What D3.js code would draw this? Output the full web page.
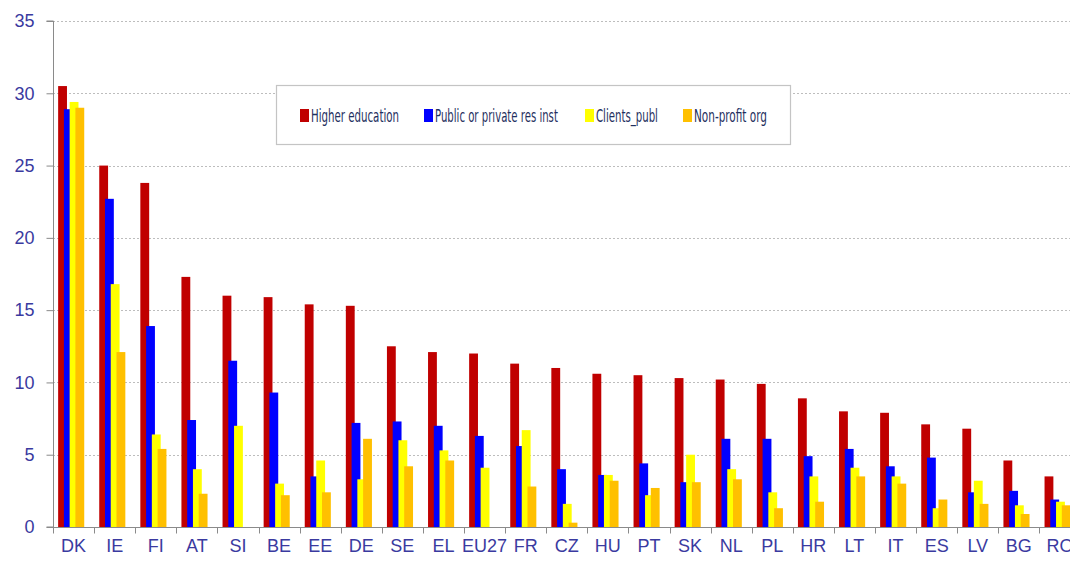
<!DOCTYPE html>
<html>
<head>
<meta charset="utf-8">
<script src="https://cdn.jsdelivr.net/npm/d3@7"></script>
<style>
  html, body { margin: 0; padding: 0; background: #fff; }
  svg { display: block; }
</style>
</head>
<body>
<svg id="chart" width="1070" height="565"></svg>
<script>
const categories = ["DK","IE","FI","AT","SI","BE","EE","DE","SE","EL","EU27","FR","CZ","HU","PT","SK","NL","PL","HR","LT","IT","ES","LV","BG","RO"];
const seriesNames = ["Higher education","Public or private res inst","Clients_publ","Non-profit org"];
const seriesColors = ["#c00000","#0000ff","#ffff00","#ffc000"];
const higherEducation = [30.5,25.0,23.8,17.3,16.0,15.9,15.4,15.3,12.5,12.1,12.0,11.3,11.0,10.6,10.5,10.3,10.2,9.9,8.9,8.0,7.9,7.1,6.8,4.6,3.5];
const publicPrivateRes = [28.9,22.7,13.9,7.4,11.5,9.3,3.5,7.2,7.3,7.0,6.3,5.6,4.0,3.6,4.4,3.1,6.1,6.1,4.9,5.4,4.2,4.8,2.4,2.5,1.9];
const clientsPubl = [29.4,16.8,6.4,4.0,7.0,3.0,4.6,3.3,6.0,5.3,4.1,6.7,1.6,3.6,2.2,5.0,4.0,2.4,3.5,4.1,3.5,1.3,3.2,1.5,1.75];
const nonProfitOrg = [29.0,12.1,5.4,2.3,0,2.2,2.4,6.1,4.2,4.6,0,2.8,0.3,3.2,2.7,3.1,3.3,1.3,1.75,3.5,3.0,1.9,1.6,0.9,1.5];
const yTicks = [0,5,10,15,20,25,30,35];

const allSeries = [higherEducation, publicPrivateRes, clientsPubl, nonProfitOrg];

const svg = d3.select("#chart");
const textColor = "#3a3aa0";
const tickFont = "'Liberation Sans', Arial, sans-serif";
const legendFont = "'DejaVu Sans Condensed', 'Liberation Sans', Arial, sans-serif";

const plotLeft = 53, plotRight = 1080.5, plotTop = 21, plotBottom = 527;

const x = d3.scaleBand().domain(categories).range([plotLeft, plotRight]).paddingInner(0).paddingOuter(0);
const y = d3.scaleLinear().domain([0, 35]).range([plotBottom, plotTop]);
const inner = d3.scaleLinear().domain([0, 3]).range([0.125, 0.545]); // fraction of band for bar start
const barW = x.bandwidth() * 0.215;

// gridlines
svg.append("g")
  .selectAll("line")
  .data(yTicks.filter(d => d > 0))
  .join("line")
  .attr("x1", plotLeft).attr("x2", 1070)
  .attr("y1", d => Math.round(y(d)) + 0.5).attr("y2", d => Math.round(y(d)) + 0.5)
  .attr("stroke", "#bdbdbd").attr("stroke-width", 1).attr("stroke-dasharray", "2,2");

// bars
const gBars = svg.append("g");
allSeries.forEach((vals, si) => {
  gBars.append("g")
    .selectAll("rect")
    .data(vals.map((v, i) => ({cat: categories[i], v})))
    .join("rect")
    .attr("x", d => x(d.cat) + x.bandwidth() * inner(si))
    .attr("width", barW)
    .attr("y", d => y(d.v))
    .attr("height", d => y(0) - y(d.v))
    .attr("fill", seriesColors[si]);
});

// y axis
const yAxis = d3.axisLeft(y).tickValues(yTicks).tickSize(7).tickPadding(12).tickFormat(d3.format("d"));
const gy = svg.append("g").attr("transform", `translate(${plotLeft + 0.5},0)`).call(yAxis);
gy.select(".domain").attr("stroke", "#8a8a8a").attr("d", `M-7,${y(35)}H0V${y(0)}H-7`);
gy.selectAll(".tick line").attr("stroke", "#8a8a8a");
gy.selectAll(".tick text").attr("fill", textColor).style("font-family", tickFont).style("font-size", "18px");

// x axis
const xAxis = d3.axisBottom(x).tickSize(0).tickPadding(12);
const gx = svg.append("g").attr("transform", `translate(0,${plotBottom + 0.5})`).call(xAxis);
gx.select(".domain").attr("stroke", "#8a8a8a").attr("d", `M${plotLeft},0H${plotRight}`);
gx.selectAll(".tick text").attr("fill", textColor).style("font-family", tickFont).style("font-size", "18px");
// boundary tick marks
gx.append("g").selectAll("line")
  .data(categories)
  .join("line")
  .attr("x1", d => Math.round(x(d)) + 0.5).attr("x2", d => Math.round(x(d)) + 0.5)
  .attr("y1", 0).attr("y2", 6)
  .attr("stroke", "#8a8a8a");

// legend
const legend = svg.append("g");
legend.append("rect")
  .attr("x", 276.5).attr("y", 85.5).attr("width", 514).attr("height", 59)
  .attr("fill", "#fff").attr("stroke", "#c4c4c4").attr("stroke-width", 1.2);
const legendX = [300, 424, 585, 683];
const legendTextW = [88, 123, 62, 73];
seriesNames.forEach((name, i) => {
  const g = legend.append("g").attr("transform", `translate(${legendX[i]},109)`);
  g.append("rect").attr("x", 0).attr("y", 0).attr("width", 9).attr("height", 13).attr("fill", seriesColors[i]);
  const t = g.append("text").attr("x", 0).attr("y", 0)
    .attr("fill", "#1f3060")
    .style("font-family", legendFont).style("font-size", "17px")
    .text(name);
  const natural = t.node().getComputedTextLength();
  const sx = Math.min(1, legendTextW[i] / natural);
  t.attr("transform", `translate(11,13) scale(${sx},1)`);
});
</script>
</body>
</html>
